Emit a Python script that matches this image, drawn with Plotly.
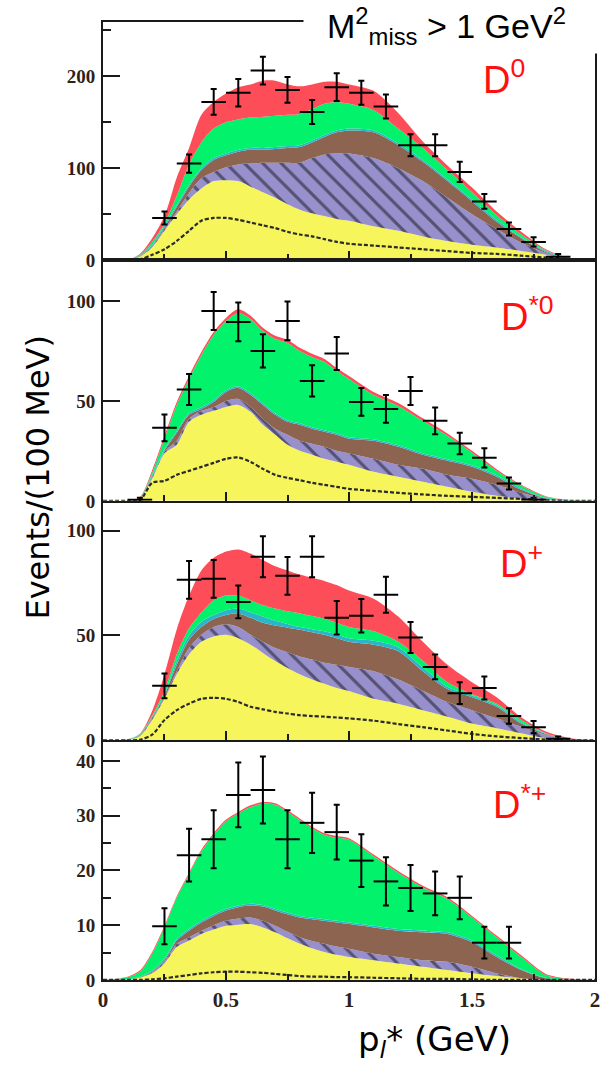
import plotly.graph_objects as go

# Lepton momentum grid (GeV) shared by all stacked components
p_grid = [0, 0.1, 0.15, 0.2, 0.25, 0.3, 0.35, 0.4, 0.45, 0.5, 0.55, 0.6, 0.65, 0.7, 0.75,
          0.8, 0.85, 0.9, 0.95, 1.0, 1.1, 1.2, 1.3, 1.4, 1.5, 1.6, 1.7, 1.8, 1.9, 2.0]

# ---- D0 sample: upper edge of each stacked contribution ----
d0_yellow = [0, 0.5, 4, 14, 32, 50, 66, 78, 86, 87, 86, 80, 74, 68, 61, 55, 51, 48, 45, 43, 37, 32, 26, 21, 17, 14, 10, 6, 2, 0]
d0_purple = [0, 0.5, 4, 15, 34, 53, 73, 89, 96, 101, 104, 105, 106, 106, 106, 106, 111, 115, 116, 116, 111, 100, 86, 68, 50, 34, 19, 8, 2, 0]
d0_brown = [0, 0.5, 4.5, 16, 36, 58, 80, 98, 109, 114, 118, 120, 120, 121, 122, 123, 128, 134, 139, 141, 139, 125, 107, 86, 64, 42, 24, 9, 2, 0]
d0_cyan = [0, 0.6, 5, 17, 38, 60, 82, 100, 111, 116, 120, 122, 122, 123, 124, 125, 130, 136, 141, 143, 141, 127, 109, 88, 66, 44, 25, 10, 2, 0]
d0_green = [0, 0.6, 6, 20, 40, 70, 104, 128, 143, 150, 153, 155, 156, 157, 158, 159, 164, 170, 172, 170, 163, 143, 122, 98, 74, 49, 28, 11, 2, 0]
d0_red = [0, 0.7, 7, 24, 48, 90, 122, 158, 172, 181, 188, 191, 195, 195, 191, 189, 191, 194, 194, 191, 184, 160, 129, 103, 79, 53, 31, 12, 2.2, 0]
d0_dashed = [0, 0, 1, 6, 12, 21, 32, 43, 46, 46, 44, 41, 38, 35, 31, 28, 26, 23, 20, 18, 16, 14, 12, 10, 8, 7, 5, 3, 1.4, 0]
d0_px = [0.25, 0.35, 0.45, 0.55, 0.65, 0.75, 0.85, 0.95, 1.05, 1.15, 1.25, 1.35, 1.45, 1.55, 1.65, 1.75, 1.85]
d0_py = [46, 105, 172, 182, 206, 185, 161, 188, 182, 167, 125, 125, 96, 64, 34, 20, 4]
d0_pe = [7, 10, 14, 15, 15, 14, 13, 15, 13, 13, 12, 12, 11, 8, 7, 5, 3]

# ---- D*0 sample ----
ds0_yellow = [0, 0, 1, 11, 23.7, 28, 39.5, 43, 45, 47, 48, 44.5, 38, 33, 28, 25, 23, 21, 19.5, 18, 14.5, 12, 9.5, 7, 4.5, 2.5, 1, 0.3, 0, 0]
ds0_purple = [0, 0, 1, 11.5, 24.5, 30, 41, 45, 47, 50, 51, 47, 41, 36, 33, 30, 28.5, 27, 25, 23.7, 21, 18, 16, 13, 11, 8, 4, 1, 0, 0]
ds0_brown = [0, 0, 1, 12, 25, 34, 43, 46, 49.5, 54.5, 56.5, 53, 48, 43, 39.5, 38, 36, 34.5, 33, 31, 30, 27, 23, 20, 17, 12, 5.5, 1.2, 0, 0]
ds0_cyan = [0, 0, 1.2, 12.8, 25.8, 34.8, 43.8, 46.8, 50.3, 55.3, 57.3, 53.8, 48.8, 43.8, 40.3, 38.8, 36.8, 35.3, 33.8, 31.8, 30.8, 27.8, 23.8, 20.8, 17.8, 12.8, 6.2, 1.5, 0, 0]
ds0_green = [0, 0, 1.5, 14, 31, 48, 61, 73, 83, 90, 94, 91, 85, 81, 79, 75, 72, 69.5, 65, 61, 53, 47.5, 40, 32.5, 24, 15, 7.5, 2, 0.3, 0]
ds0_red = [0, 0, 1.8, 15.3, 32.5, 49.5, 62.5, 74.5, 84.5, 91.5, 95.8, 92.6, 86.6, 82.6, 80.6, 76.6, 73.6, 71, 66.5, 62.5, 54.5, 49, 41.3, 33.7, 25, 15.8, 8, 2.3, 0.4, 0]
ds0_dashed = [0, 0, 0.3, 9, 10, 13, 15, 17, 19, 21, 21.7, 19.5, 16, 13, 11.5, 10.3, 9, 8, 7, 6, 5, 4, 3.2, 2.5, 2, 1.5, 1, 0.3, 0, 0]
ds0_px = [0.15, 0.25, 0.35, 0.45, 0.55, 0.65, 0.75, 0.85, 0.95, 1.05, 1.15, 1.25, 1.35, 1.45, 1.55, 1.65, 1.75]
ds0_py = [0.5, 36.5, 55.7, 95, 89.5, 75, 90, 60, 73.7, 49.5, 46, 55, 40, 28.7, 21.5, 8.7, 0.5]
ds0_pe = [1, 6.7, 7.7, 9.5, 9.7, 8.3, 9.7, 7.8, 8.3, 7, 7, 7, 6.7, 5.4, 4.8, 3, 1]

# ---- D+ sample ----
dp_yellow = [0, 0.3, 2, 9.7, 19.8, 31.5, 41, 47, 49.5, 50.3, 48.7, 45.6, 41.7, 37.8, 34.5, 31.5, 29, 27, 25, 23.5, 19.8, 17.5, 14.4, 11.3, 8, 5.8, 3.4, 1, 0, 0]
dp_purple = [0, 0.3, 2.2, 10.5, 20.6, 33, 44, 50.3, 54, 55.3, 54, 50.3, 47, 44, 42, 40, 38.5, 37, 36, 35, 33, 29, 23.7, 18.3, 14.4, 10.5, 6.5, 2.7, 0.2, 0]
dp_brown = [0, 0.4, 2.5, 11, 21.4, 36, 48, 54, 57.8, 59.7, 60.5, 58.4, 56, 54.7, 53.7, 52.7, 51.5, 50.3, 48.7, 47, 45.6, 42.5, 33, 24.5, 20.6, 16, 8, 3, 0.3, 0]
dp_cyan = [0, 0.5, 2.7, 11.3, 22, 37.8, 50, 56.5, 59.7, 62, 62.8, 61, 59, 57, 55.5, 54, 53, 52, 50.5, 48.7, 47.5, 44.4, 34.7, 25.6, 21.4, 16.7, 8.7, 3.3, 0.3, 0]
dp_green = [0, 0.5, 3, 11.8, 23.7, 41, 53.4, 61, 66.7, 69, 69, 66.7, 64.4, 62.8, 61.5, 60.5, 59.3, 58, 56, 54, 52, 47, 38, 27.7, 22, 17.5, 9.7, 3.4, 0.4, 0]
dp_red = [0, 0.6, 3.2, 14, 31.5, 53, 69, 81, 87, 90, 91, 89, 86, 83, 81, 79, 77.5, 76, 74, 71.4, 67.5, 59, 47, 36, 27.7, 20.6, 11, 4.2, 1, 0]
dp_dashed = [0, 0, 0.3, 2.7, 9.7, 14.4, 17.5, 19.8, 20.3, 19.8, 18.3, 16, 14.8, 13.6, 12.8, 12, 11.6, 11.3, 10.9, 10.5, 9.4, 7.8, 6.3, 4.7, 3.1, 1.9, 1.1, 0.4, 0, 0]
dp_px = [0.25, 0.35, 0.45, 0.55, 0.65, 0.75, 0.85, 0.95, 1.05, 1.15, 1.25, 1.35, 1.45, 1.55, 1.65, 1.75, 1.85]
dp_py = [26, 76.5, 77, 66, 87.5, 78.4, 87.5, 58.4, 59.4, 69.4, 49, 35, 22.5, 25, 11.6, 6.3, 0.8]
dp_pe = [5.9, 9, 9, 7.8, 9.8, 9, 9.8, 8, 8, 8.6, 7.4, 5.9, 5.2, 5.5, 3.7, 2.9, 1]

# ---- D*+ sample ----
dsp_yellow = [0, 0.1, 0.4, 1.2, 3, 6, 7.2, 8.4, 9.2, 9.9, 10.1, 10.2, 9.6, 8.7, 7.6, 6.6, 5.8, 5.1, 4.6, 4.2, 3.6, 3, 2.4, 1.8, 1.2, 0.7, 0.3, 0, 0, 0]
dsp_purple = [0, 0.1, 0.4, 1.3, 3.3, 6.6, 7.8, 9, 10, 10.8, 11.2, 11.4, 10.8, 9.9, 8.8, 7.8, 7.1, 6.6, 6.1, 5.7, 4.8, 4.2, 3.6, 3.3, 2.4, 1.2, 0.3, 0, 0, 0]
dsp_brown = [0, 0.1, 0.5, 1.5, 3.6, 7.2, 9, 10.5, 11.7, 12.7, 13.3, 13.6, 13.4, 12.7, 12, 11.4, 11.1, 10.8, 10.5, 10.2, 9.6, 9, 8.7, 8.4, 6.9, 4.2, 1.8, 0.3, 0, 0]
dsp_cyan = [0, 0.1, 0.6, 1.7, 3.9, 7.5, 9.3, 10.8, 12, 13, 13.6, 13.9, 13.7, 13, 12.3, 11.7, 11.4, 11.1, 10.8, 10.5, 9.9, 9.3, 9, 8.7, 7.2, 4.5, 2, 0.4, 0, 0]
dsp_green = [0, 0.5, 1.5, 4.8, 9.6, 15, 19.3, 23.5, 26.5, 29, 30.4, 31.6, 32.2, 32, 30.7, 29.2, 27.7, 26.5, 26, 25.6, 22.6, 19.6, 16.9, 14.8, 11.4, 7.8, 4.2, 0.9, 0.1, 0]
dsp_red = [0, 0.6, 1.7, 5.1, 9.9, 15.3, 19.6, 23.8, 26.8, 29.3, 30.7, 31.9, 32.5, 32.3, 31, 29.5, 28, 26.8, 26.3, 25.9, 22.9, 19.9, 17.2, 15.1, 11.7, 8.1, 4.5, 1.1, 0.2, 0]
dsp_dashed = [0, 0, 0, 0.1, 0.3, 0.6, 0.9, 1.2, 1.4, 1.5, 1.5, 1.4, 1.3, 1.1, 0.9, 0.7, 0.6, 0.6, 0.5, 0.5, 0.4, 0.3, 0.2, 0.2, 0.1, 0, 0, 0, 0, 0]
dsp_px = [0.25, 0.35, 0.45, 0.55, 0.65, 0.75, 0.85, 0.95, 1.05, 1.15, 1.25, 1.35, 1.45, 1.55, 1.65]
dsp_py = [9.8, 22.8, 25.7, 33.8, 34.7, 25.7, 28.7, 27, 21.8, 18, 16.8, 15.8, 15, 6.8, 6.8]
dsp_pe = [3.3, 4.8, 5.3, 5.9, 6.1, 5.3, 5.5, 5, 4.8, 4.4, 4.2, 4, 3.9, 2.9, 2.9]

panel_names = ["D<sup>0</sup>", "D<sup>*0</sup>", "D<sup>+</sup>", "D<sup>*+</sup>"]
y_tick_vals = [[0, 100, 200], [0, 50, 100], [0, 50, 100], [0, 10, 20, 30, 40]]

W, H = 605, 1081
X_LEFT, X_RIGHT = 99.6, 600.0
# (top px, bottom px, y max, minor step)
frames = [(22, 263, 259, 50), (263, 506, 120.3, None),
          (508, 748, 113.2, None), (750, 990, 43.4, 5)]

COL_YELLOW = "#f6f65c"
COL_PURPLE = "#9890cc"
COL_BROWN = "#8c6450"
COL_CYAN = "#2ab6c8"
COL_GREEN = "#02f26b"
COL_RED = "#fd4d58"

panels = [
    (d0_yellow, d0_purple, d0_brown, d0_cyan, d0_green, d0_red, d0_dashed, d0_px, d0_py, d0_pe),
    (ds0_yellow, ds0_purple, ds0_brown, ds0_cyan, ds0_green, ds0_red, ds0_dashed, ds0_px, ds0_py, ds0_pe),
    (dp_yellow, dp_purple, dp_brown, dp_cyan, dp_green, dp_red, dp_dashed, dp_px, dp_py, dp_pe),
    (dsp_yellow, dsp_purple, dsp_brown, dsp_cyan, dsp_green, dsp_red, dsp_dashed, dsp_px, dsp_py, dsp_pe),
]

fig = go.Figure()
for i, (yel, pur, bro, cya, gre, red, dash, px, py, pe) in enumerate(panels):
    n = "" if i == 0 else str(i + 1)
    xa, ya = "x" + n, "y" + n
    layers = [(yel, COL_YELLOW, None), (pur, COL_PURPLE, "hatch"), (bro, COL_BROWN, None),
              (cya, COL_CYAN, None), (gre, COL_GREEN, None), (red, COL_RED, None)]
    for k, (vals, col, pat) in enumerate(layers):
        kw = {}
        if pat:
            kw["fillpattern"] = dict(shape="\\", fgcolor="#111118", bgcolor=col,
                                     size=13, solidity=0.24)
        fig.add_trace(go.Scatter(
            x=p_grid, y=vals, xaxis=xa, yaxis=ya, mode="lines",
            line=dict(width=0, shape="spline", smoothing=0.8, color=col),
            fill="tozeroy" if k == 0 else "tonexty", fillcolor=col,
            hoverinfo="skip", showlegend=False, **kw))
    fig.add_trace(go.Scatter(
        x=p_grid, y=dash, xaxis=xa, yaxis=ya, mode="lines",
        line=dict(width=2.2, shape="spline", smoothing=0.8, color="#2a2a2a", dash="4px,2px"),
        hoverinfo="skip", showlegend=False))
    fig.add_trace(go.Scatter(
        x=px, y=py, xaxis=xa, yaxis=ya, mode="markers",
        marker=dict(size=1, color="black"),
        error_x=dict(type="constant", value=0.05, thickness=2, width=0, color="black"),
        error_y=dict(type="data", array=pe, thickness=2, width=3, color="black"),
        showlegend=False))

layout = dict(width=W, height=H, margin=dict(l=0, r=0, t=0, b=0),
              paper_bgcolor="white", plot_bgcolor="white", showlegend=False)
tick_font = dict(family="Liberation Serif", size=19, color="#2e2218", weight="bold")
for i, (top, bot, ymax, mstep) in enumerate(frames):
    n = "" if i == 0 else str(i + 1)
    last = i == len(frames) - 1
    layout["xaxis" + n] = dict(
        domain=[X_LEFT / W, X_RIGHT / W], anchor="y" + n, range=[0, 2],
        showline=True, mirror=True, linecolor="#1a1a1a", linewidth=2,
        showgrid=False, zeroline=False, ticks="inside", tick0=0, dtick=0.5,
        ticklen=9, tickwidth=1.5, tickcolor="#1a1a1a",
        minor=dict(ticks="inside", dtick=0.25, ticklen=6, tickwidth=1.5, tickcolor="#1a1a1a"),
        showticklabels=last, ticklabeloverflow="allow",
        tickfont=dict(family="Liberation Serif", size=21, color="#2e2218", weight="bold"))
    ya = dict(
        domain=[1 - bot / H, 1 - top / H], anchor="x" + n, range=[0, ymax],
        showline=True, mirror=True, linecolor="#1a1a1a", linewidth=2,
        showgrid=False, zeroline=False, ticks="inside", tickvals=y_tick_vals[i],
        ticklen=17, tickwidth=1.5, tickcolor="#1a1a1a", tickfont=tick_font,
        ticklabelstandoff=2)
    if mstep:
        ya["minor"] = dict(ticks="inside", dtick=mstep, ticklen=8, tickwidth=1.5,
                           tickcolor="#1a1a1a", tick0=0)
    layout["yaxis" + n] = ya

annotations = [
    # white box behind the selection label, covering the frame corner
    dict(xref="paper", yref="paper", x=303 / W, y=1, xanchor="left", yanchor="top",
         text=" ", showarrow=False, width=302, height=52, bgcolor="white", borderpad=0),
    dict(xref="paper", yref="paper", x=449 / W, y=1 - 26 / H, xanchor="center", yanchor="middle",
         text="M<sup>2</sup><sub>miss</sub> > 1 GeV<sup>2</sup>", showarrow=False,
         font=dict(family="Liberation Sans", size=34, color="black")),
    dict(xref="paper", yref="paper", x=34 / W, y=1 - 482 / H, textangle=-90,
         xanchor="center", yanchor="middle",
         text="Events/(100 MeV)", showarrow=False,
         font=dict(family="DejaVu Sans", size=32, color="black")),
    dict(xref="paper", yref="paper", x=437 / W, y=1 - 1052 / H,
         xanchor="center", yanchor="middle",
         text="p<sub><i>l</i></sub>* (GeV)", showarrow=False,
         font=dict(family="DejaVu Sans", size=34, color="black")),
]
label_pos = [(484, 78), (502, 317), (501, 567), (494, 810)]
for name, (lx, ly) in zip(panel_names, label_pos):
    annotations.append(dict(xref="paper", yref="paper", x=lx / W, y=1 - ly / H,
                            xanchor="left", yanchor="middle", text=name, showarrow=False,
                            font=dict(family="Liberation Sans", size=38, color="#ff1010")))
layout["annotations"] = annotations

fig.update_layout(**layout)
fig.write_html("out.html")
